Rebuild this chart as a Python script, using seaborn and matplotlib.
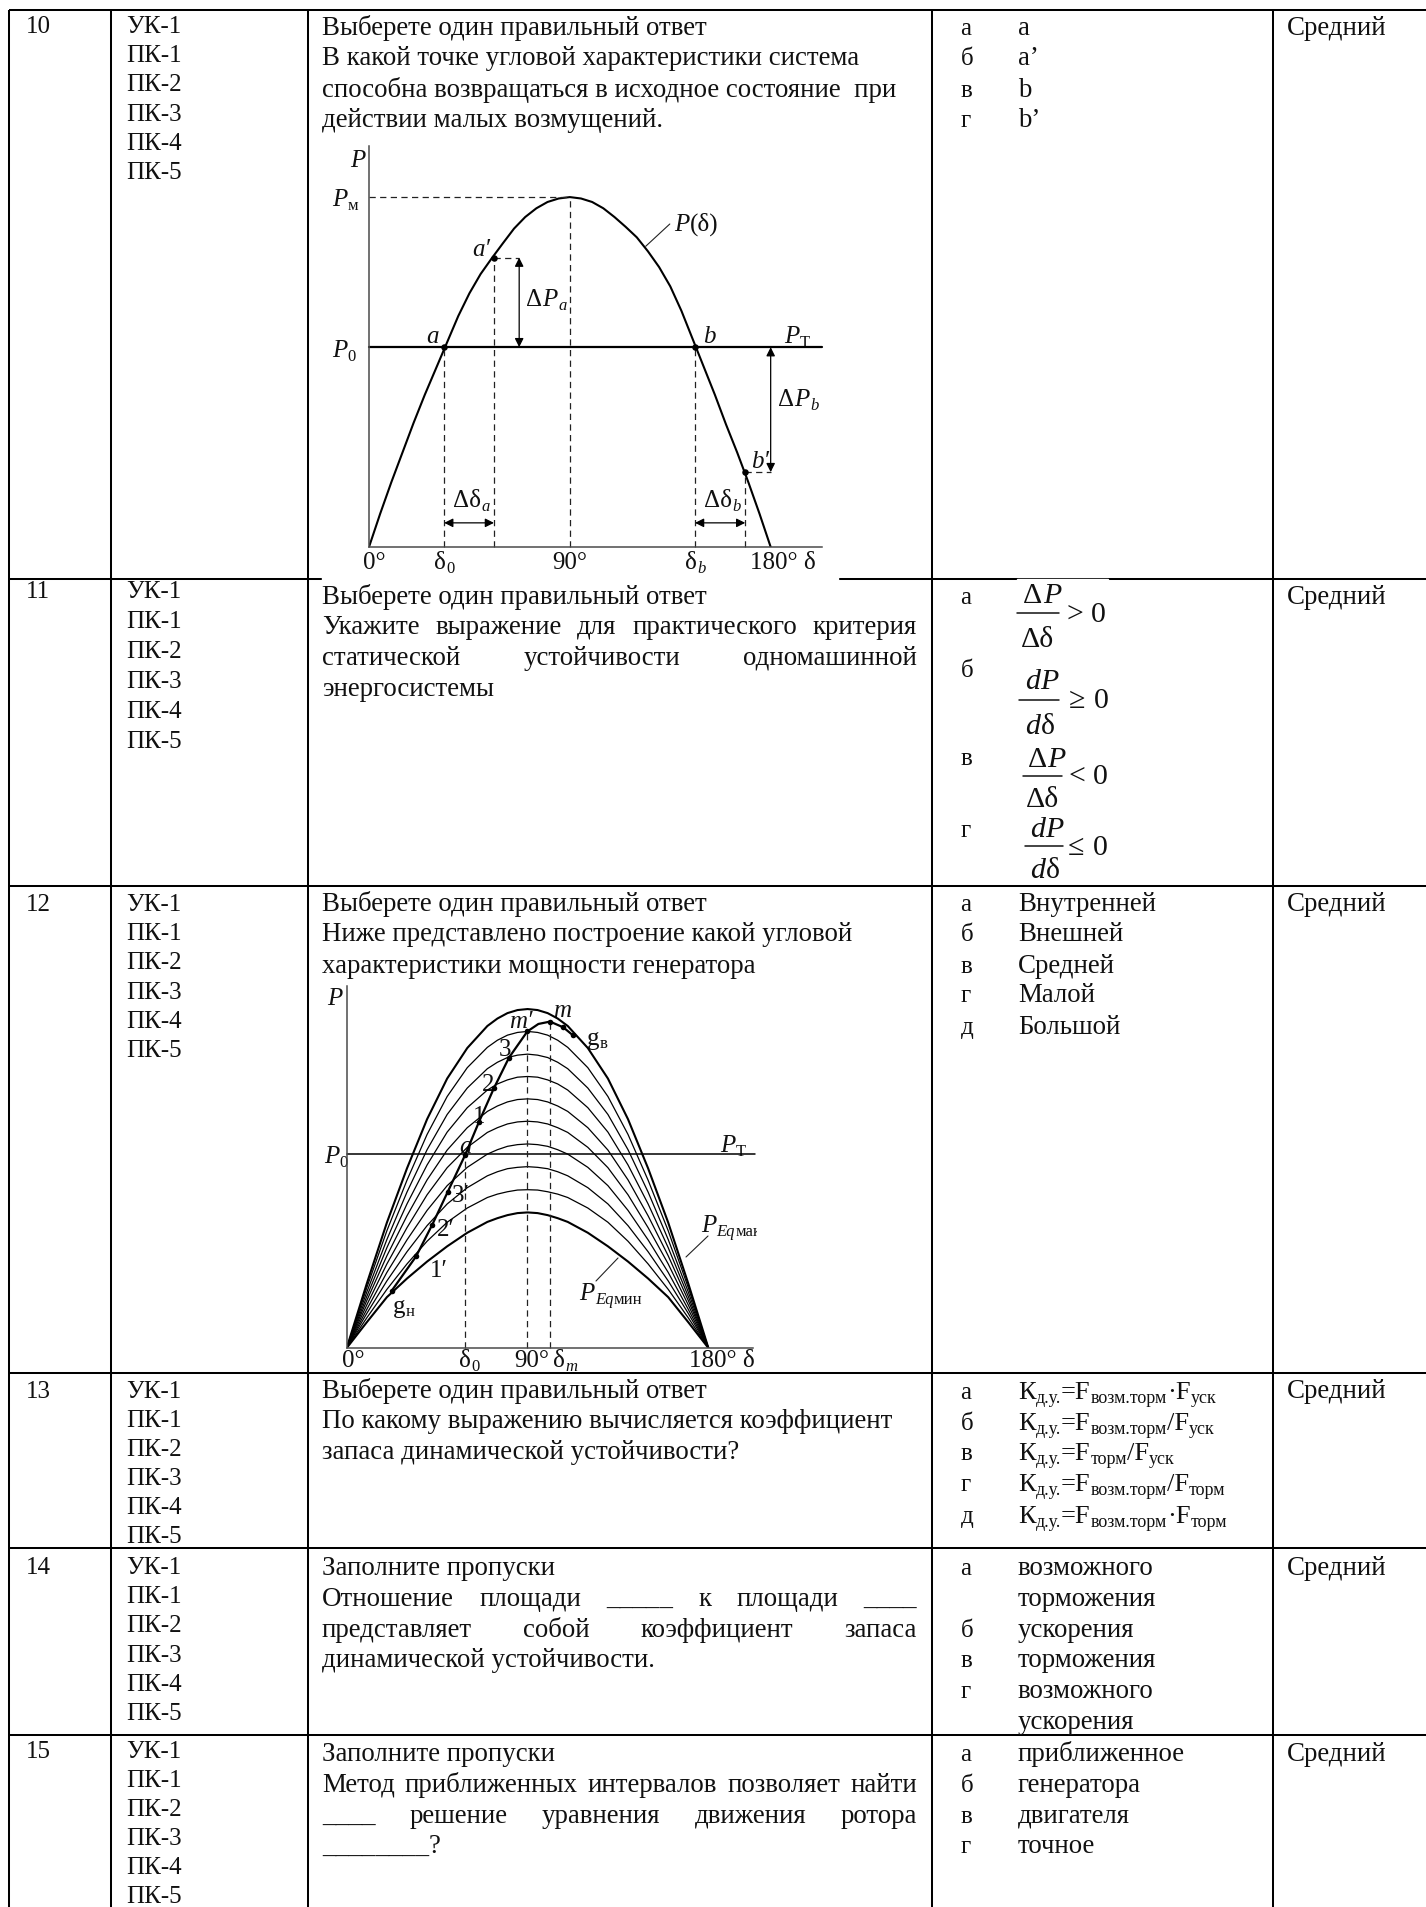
"""Exam question table with two power-angle charts."""

import matplotlib

matplotlib.use("Agg")

import matplotlib.pyplot as plt
import seaborn as sns
from matplotlib.patches import Rectangle
from matplotlib.transforms import Bbox

W, H = 1426, 1908
BODY = 18.0
PROSE = 19.35
SMALL = 12.0

# chart of question 10
ANGLE_DEG = [0, 5, 10, 15, 20, 25, 30, 35, 40, 45, 50, 55, 60, 65, 70, 75, 80, 85, 90,
             95, 100, 105, 110, 115, 120, 125, 130, 135, 140, 145, 150, 155, 160, 165, 170, 175, 180]
POWER = [0, 0.095, 0.185, 0.27, 0.355, 0.435, 0.51, 0.585, 0.66, 0.725, 0.78, 0.825, 0.868, 0.91, 0.943, 0.968, 0.986, 0.996, 1,
         0.996, 0.986, 0.968, 0.943, 0.915, 0.885, 0.845, 0.80, 0.745, 0.675, 0.595, 0.515, 0.435, 0.35, 0.27, 0.185, 0.095, 0]
POINT_DEG = [33.7, 56, 146.1, 168.6]
POINT_POWER = [0.571, 0.827, 0.571, 0.214]
TURBINE_POWER = 0.571

# chart of question 12
FAMILY_DEG = [0, 10, 20, 30, 40, 50, 60, 70, 75, 80, 85, 90, 95, 100, 105, 110, 120, 130, 140, 150, 160, 170, 180]
FAMILY_1 = [0, .19, .37, .53, .675, .795, .885, .95, .972, .988, .997, 1, .997, .988, .972, .95, .885, .795, .675, .53, .37, .19, 0]
FAMILY_2 = [0, .178, .346, .495, .63, .742, .827, .887, .908, .923, .931, .934, .931, .923, .908, .887, .827, .742, .63, .495, .346, .178, 0]
FAMILY_3 = [0, .165, .32, .46, .585, .689, .767, .824, .843, .857, .864, .867, .864, .857, .843, .824, .767, .689, .585, .46, .32, .165, 0]
FAMILY_4 = [0, .152, .296, .425, .54, .637, .709, .761, .779, .791, .799, .801, .799, .791, .779, .761, .709, .637, .54, .425, .296, .152, 0]
FAMILY_5 = [0, .14, .272, .39, .496, .584, .65, .698, .714, .726, .733, .735, .733, .726, .714, .698, .65, .584, .496, .39, .272, .14, 0]
FAMILY_6 = [0, .127, .248, .355, .452, .532, .592, .636, .65, .661, .667, .669, .667, .661, .65, .636, .592, .532, .452, .355, .248, .127, 0]
FAMILY_7 = [0, .114, .223, .319, .406, .479, .533, .572, .585, .595, .6, .602, .6, .595, .585, .572, .533, .479, .406, .319, .223, .114, 0]
FAMILY_8 = [0, .102, .198, .284, .361, .425, .473, .508, .52, .529, .533, .535, .533, .529, .52, .508, .473, .425, .361, .284, .198, .102, 0]
FAMILY_9 = [0, .089, .173, .248, .315, .371, .413, .444, .454, .461, .466, .467, .466, .461, .454, .444, .413, .371, .315, .248, .173, .089, 0]
FAMILY_10 = [0, .076, .15, .205, .255, .30, .34, .372, .383, .392, .398, .400, .398, .392, .383, .372, .34, .30, .255, .205, .15, .076, 0]
FAMILIES = [FAMILY_1, FAMILY_2, FAMILY_3, FAMILY_4, FAMILY_5, FAMILY_6, FAMILY_7, FAMILY_8, FAMILY_9, FAMILY_10]
LOCUS_DEG = [22.4, 34.5, 42.6, 50.3, 58.9, 65.9, 73.3, 80.8, 89.9, 95.4, 101.2, 107.8, 112.5]
LOCUS_POWER = [.169, .270, .364, .461, .569, .668, .767, .857, .934, .956, .963, .946, .923]

NUMBERS = ["10", "11", "12", "13", "14", "15"]
COMPETENCES = ["УК-1", "ПК-1", "ПК-2", "ПК-3", "ПК-4", "ПК-5"]
LEVEL = "Средний"
ROW_LINES = [10.6, 579.5, 886.5, 1374, 1549, 1736]
COL_LINES = [9, 110.7, 307.8, 932, 1272.7]
FIRST_BASELINES = [33, 598, 911, 1398, 1574, 1758]
COMP_STEPS = [29.2, 30.0, 29.2, 29.0, 29.2, 29.1]
LEVEL_BASELINES = [34.7, 604, 911, 1398, 1575, 1760.7]

FIRST_LINE = "Выберете один правильный ответ"
FILL_LINE = "Заполните пропуски"
# (text, baseline, justified)
QUESTIONS = [
    (FIRST_LINE, 34.7, False),
    ("В какой точке угловой характеристики система", 65, False),
    ("способна возвращаться в исходное состояние  при", 96.7, False),
    ("действии малых возмущений.", 126.7, False),
    (FIRST_LINE, 604, False),
    ("Укажите выражение для практического критерия", 634, True),
    ("статической устойчивости одномашинной", 665, True),
    ("энергосистемы", 696, False),
    (FIRST_LINE, 911, False),
    ("Ниже представлено построение какой угловой", 941.5, False),
    ("характеристики мощности генератора", 973, False),
    (FIRST_LINE, 1398, False),
    ("По какому выражению вычисляется коэффициент", 1428, False),
    ("запаса динамической устойчивости?", 1459, False),
    (FILL_LINE, 1575, False),
    ("Отношение площади _____ к площади ____", 1606, True),
    ("представляет собой коэффициент запаса", 1636.7, True),
    ("динамической устойчивости.", 1667, False),
    (FILL_LINE, 1760.7, False),
    ("Метод приближенных интервалов позволяет найти", 1791.7, True),
    ("____ решение уравнения движения ротора", 1822.7, True),
    ("________?", 1853, False),
]
# (letter, text, baseline)
ANSWERS = [
    ("а", "a", 34.7), ("б", "a’", 65), ("в", "b", 96.7), ("г", "b’", 126.7),
    ("а", "Внутренней", 911), ("б", "Внешней", 941.5), ("в", "Средней", 973),
    ("г", "Малой", 1002), ("д", "Большой", 1034),
    ("а", "возможного", 1575), ("", "торможения", 1606), ("б", "ускорения", 1636.7),
    ("в", "торможения", 1667), ("г", "возможного", 1698), ("", "ускорения", 1729),
    ("а", "приближенное", 1760.7), ("б", "генератора", 1791.7),
    ("в", "двигателя", 1822.7), ("г", "точное", 1853),
]
FORMULA_LETTERS = [("а", 604), ("б", 676.7), ("в", 765), ("г", 836.7)]
# numerator, denominator, relation
FORMULAS = [("Δ", "Δδ", ">"), ("d", "dδ", "≥"), ("Δ", "Δδ", "<"), ("d", "dδ", "≤")]
RATIO_LETTERS = [("а", 1399), ("б", 1430), ("в", 1460), ("г", 1490.7), ("д", 1522.7)]
RATIOS = [("возм.торм", "·F", "уск"), ("возм.торм", "/F", "уск"), ("торм", "/F", "уск"),
          ("возм.торм", "/F", "торм"), ("возм.торм", "·F", "торм")]

sns.set_theme(style="white")
plt.rcParams["font.family"] = ["Liberation Serif", "DejaVu Serif"]
plt.rcParams["text.color"] = "#111111"

fig = plt.figure(figsize=(W / 100, H / 100), dpi=100, facecolor="white")
page = fig.add_axes([0, 0, 1, 1])
page.set_xlim(0, W)
page.set_ylim(H, 0)
page.axis("off")
renderer = fig.canvas.get_renderer()


def put(x, y, text, size=BODY, style="normal", ha="left"):
    return page.text(x, y, text, fontsize=size, fontstyle=style, ha=ha, va="baseline")


def width(artist):
    return artist.get_window_extent(renderer).width


def runs(x, y, parts, gap=0.5):
    # parts: text, size, style, drop below the baseline
    for text, size, style, drop in parts:
        x += width(put(x, y + drop, text, size, style)) + gap
    return x


def justified(x0, x1, y, line):
    words = [put(0, y, word, PROSE) for word in line.split()]
    sizes = [width(word) for word in words]
    space = (x1 - x0 - sum(sizes)) / (len(words) - 1)
    x = x0
    for word, size in zip(words, sizes):
        word.set_x(x)
        x += size + space


def chart_axes(x0, y_base, x_end, y_top, xlim, ylim):
    ax = fig.add_axes([x0 / W, 1 - y_base / H, (x_end - x0) / W, (y_base - y_top) / H])
    ax.patch.set_visible(False)
    ax.set_xlim(0, xlim)
    ax.set_ylim(0, ylim)
    ax.set_xticks([])
    ax.set_yticks([])
    sns.despine(ax=ax)
    for side in ("left", "bottom"):
        ax.spines[side].set_color("#4a4a4a")
        ax.spines[side].set_linewidth(1.1)
    return ax


def guide(ax, xs, ys):
    ax.plot(xs, ys, color="#222222", linewidth=0.9, dashes=(5, 3.5), clip_on=False)


def double_arrow(ax, start, end):
    ax.annotate("", xy=end, xytext=start,
                arrowprops={"arrowstyle": "<|-|>", "color": "black", "lw": 0.9,
                            "mutation_scale": 13, "shrinkA": 0, "shrinkB": 0})


def leader(x0, y0, x1, y1):
    page.plot([x0, x1], [y0, y1], color="#222222", linewidth=0.8)


# table grid
for y in ROW_LINES:
    page.plot([COL_LINES[0], W], [y, y], color="black", linewidth=1.45, solid_capstyle="butt")
for x in COL_LINES:
    page.plot([x, x], [ROW_LINES[0], H], color="black", linewidth=1.45, solid_capstyle="butt")
page.add_patch(Rectangle((322, 578), 516, 3, color="white", zorder=3))
page.add_patch(Rectangle((1017, 579.6), 91, 1.5, color="white", zorder=3))

# left and right columns
for number, start, step, level_y in zip(NUMBERS, FIRST_BASELINES, COMP_STEPS, LEVEL_BASELINES):
    put(25.5, start, number)
    put(1286.5, level_y, LEVEL, PROSE)
    for i, comp in enumerate(COMPETENCES):
        put(126, start + i * step, comp)

for line, y, spread in QUESTIONS:
    if spread:
        justified(322, 917, y, line)
    else:
        put(322, y, line, PROSE)

for letter, text, y in ANSWERS:
    put(960.5, y, letter)
    put(1018, y, text, PROSE)

# stability criteria of question 11
for (letter, y) in FORMULA_LETTERS:
    put(960.5, y, letter)
BARS = [(1017, 1059, 614), (1019, 1059, 700.7), (1023, 1062, 776.7), (1025, 1063, 847)]
NUM_Y = [602.7, 689, 766.7, 836.7]
DEN_Y = [647, 734, 807, 878]
REL_Y = [621.7, 708, 784, 855]
REL_X = [1066, 1069, 1068, 1068]
BIG = 21.5
for (num, den, rel), (x0, x1, bar), ny, dy, ry, rx in zip(FORMULAS, BARS, NUM_Y, DEN_Y, REL_Y, REL_X):
    page.plot([x0, x1], [bar, bar], color="#111111", linewidth=1.1)
    shift = 15 if num == "Δ" else 14
    runs((x0 + x1) / 2 - shift, ny, [(num, BIG, "normal" if num == "Δ" else "italic", 0), ("P", BIG, "italic", 0)])
    if den[0] == "Δ":
        put((x0 + x1) / 2, dy, den, BIG, ha="center")
    else:
        runs((x0 + x1) / 2 - 14, dy, [("d", BIG, "italic", 0), ("δ", BIG, "normal", 0)])
    put(rx, ry, rel, BIG)
    put(rx + 25, ry, "0", BIG)

# margin ratios of question 13
for (letter, y), (sub_a, mid, sub_b) in zip(RATIO_LETTERS, RATIOS):
    put(960.5, y, letter)
    runs(1018, y, [("К", 19, "normal", 0), ("д.у.", 13, "normal", 4), ("=F", 19, "normal", 0),
                   (sub_a, 13, "normal", 4), (mid, 19, "normal", 0), (sub_b, 13, "normal", 4)], gap=0)

# chart of question 10
ax = chart_axes(369, 548, 822, 147, 203, 1.146)
sns.lineplot(x=ANGLE_DEG, y=POWER, ax=ax, color="black", linewidth=1.5, sort=False, estimator=None)
ax.plot([0, 203], [TURBINE_POWER, TURBINE_POWER], color="black", linewidth=1.6, clip_on=False)
sns.scatterplot(x=POINT_DEG, y=POINT_POWER, ax=ax, color="black", s=22, linewidth=0, zorder=5)
guide(ax, [0, 90], [1, 1])
guide(ax, [90, 90], [0, 1])
guide(ax, [POINT_DEG[0]] * 2, [0, POINT_POWER[0]])
guide(ax, [POINT_DEG[1]] * 2, [0, POINT_POWER[1]])
guide(ax, [POINT_DEG[2]] * 2, [0, POINT_POWER[2]])
guide(ax, [POINT_DEG[3]] * 2, [0, POINT_POWER[3]])
guide(ax, [POINT_DEG[1], 67.3], [POINT_POWER[1]] * 2)
guide(ax, [POINT_DEG[3], 180], [POINT_POWER[3]] * 2)
double_arrow(ax, (67.3, TURBINE_POWER), (67.3, POINT_POWER[1]))
double_arrow(ax, (180, POINT_POWER[3]), (180, TURBINE_POWER))
double_arrow(ax, (POINT_DEG[0], 0.069), (POINT_DEG[1], 0.069))
double_arrow(ax, (POINT_DEG[2], 0.069), (POINT_DEG[3], 0.069))
leader(645.7, 247.3, 669.8, 225)

runs(350, 167, [("P", BODY, "italic", 0)])
runs(332, 206, [("P", BODY, "italic", 0), ("м", SMALL, "normal", 4)])
runs(332, 357, [("P", BODY, "italic", 0), ("0", SMALL, "normal", 4)])
runs(472.5, 256, [("a′", BODY, "italic", 0)])
runs(426, 343, [("a", BODY, "italic", 0)])
runs(703, 343, [("b", BODY, "italic", 0)])
runs(784.5, 343, [("P", BODY, "italic", 0), ("Т", SMALL, "normal", 4)])
runs(526, 306, [("Δ", BODY, "normal", 0), ("P", BODY, "italic", 0), ("a", SMALL, "italic", 4)])
runs(777.6, 406, [("Δ", BODY, "normal", 0), ("P", BODY, "italic", 0), ("b", SMALL, "italic", 4)])
runs(674, 231, [("P", BODY, "italic", 0), ("(δ)", BODY, "normal", 0)])
runs(751, 468, [("b′", BODY, "italic", 0)])
runs(453, 507, [("Δδ", BODY, "normal", 0), ("a", SMALL, "italic", 4)])
runs(704, 507, [("Δδ", BODY, "normal", 0), ("b", SMALL, "italic", 4)])
put(363, 569, "0°")
runs(434, 569, [("δ", BODY, "normal", 0), ("0", SMALL, "normal", 4)])
put(570, 569, "90°", ha="center")
runs(685, 569, [("δ", BODY, "normal", 0), ("b", SMALL, "italic", 4)])
put(750, 569, "180° δ")

# chart of question 12
ax = chart_axes(346.7, 1349, 753, 987, 202.2, 1.068)
for i, values in enumerate(FAMILIES):
    edge = i in (0, len(FAMILIES) - 1)
    sns.lineplot(x=FAMILY_DEG, y=values, ax=ax, color="black", linewidth=1.5 if edge else 0.9,
                 sort=False, estimator=None)
sns.lineplot(x=LOCUS_DEG, y=LOCUS_POWER, ax=ax, color="black", linewidth=1.6, sort=False, estimator=None)
sns.scatterplot(x=LOCUS_DEG[:9] + LOCUS_DEG[10:], y=LOCUS_POWER[:9] + LOCUS_POWER[10:], ax=ax,
                color="black", s=16, linewidth=0, zorder=5)
ax.plot([0, 203], [TURBINE_POWER, TURBINE_POWER], color="black", linewidth=1.1, clip_on=False)
guide(ax, [LOCUS_DEG[4]] * 2, [0, LOCUS_POWER[4]])
guide(ax, [LOCUS_DEG[8]] * 2, [0, LOCUS_POWER[8]])
guide(ax, [LOCUS_DEG[10]] * 2, [0, LOCUS_POWER[10]])
leader(686, 1258, 708, 1237)
leader(618, 1259, 596, 1282)

runs(327, 1005, [("P", BODY, "italic", 0)])
runs(553, 1017, [("m", BODY, "italic", 0)])
runs(509, 1028, [("m′", BODY, "italic", 0)])
runs(587, 1045, [("g", BODY, "normal", 0), ("в", SMALL, "normal", 3)])
put(499, 1056, "3")
put(482, 1091, "2")
put(473, 1123, "1")
runs(459, 1153, [("a", BODY, "italic", 0)])
runs(720, 1152, [("P", BODY, "italic", 0), ("Т", SMALL, "normal", 4)])
runs(324, 1163, [("P", BODY, "italic", 0), ("0", SMALL, "normal", 4)])
put(452, 1202, "3′")
put(437, 1236, "2′")
put(430, 1277, "1′")
runs(393, 1313, [("g", BODY, "normal", 0), ("н", SMALL, "normal", 3)])
before = len(page.texts)
runs(700.7, 1232, [("P", BODY, "italic", 0), ("Eq", SMALL, "italic", 4), ("макс", SMALL, "normal", 4)])
for label in page.texts[before:]:
    label.set_clip_box(Bbox([[0, 0], [757, H]]))
    label.set_clip_on(True)
runs(579, 1300, [("P", BODY, "italic", 0), ("Eq", SMALL, "italic", 4), ("мин", SMALL, "normal", 4)])
put(342, 1367, "0°")
runs(459, 1367, [("δ", BODY, "normal", 0), ("0", SMALL, "normal", 4)])
put(532, 1367, "90°", ha="center")
runs(553, 1367, [("δ", BODY, "normal", 0), ("m", SMALL, "italic", 4)])
put(689, 1367, "180° δ")

fig.savefig("out.png", dpi=100, facecolor="white")
